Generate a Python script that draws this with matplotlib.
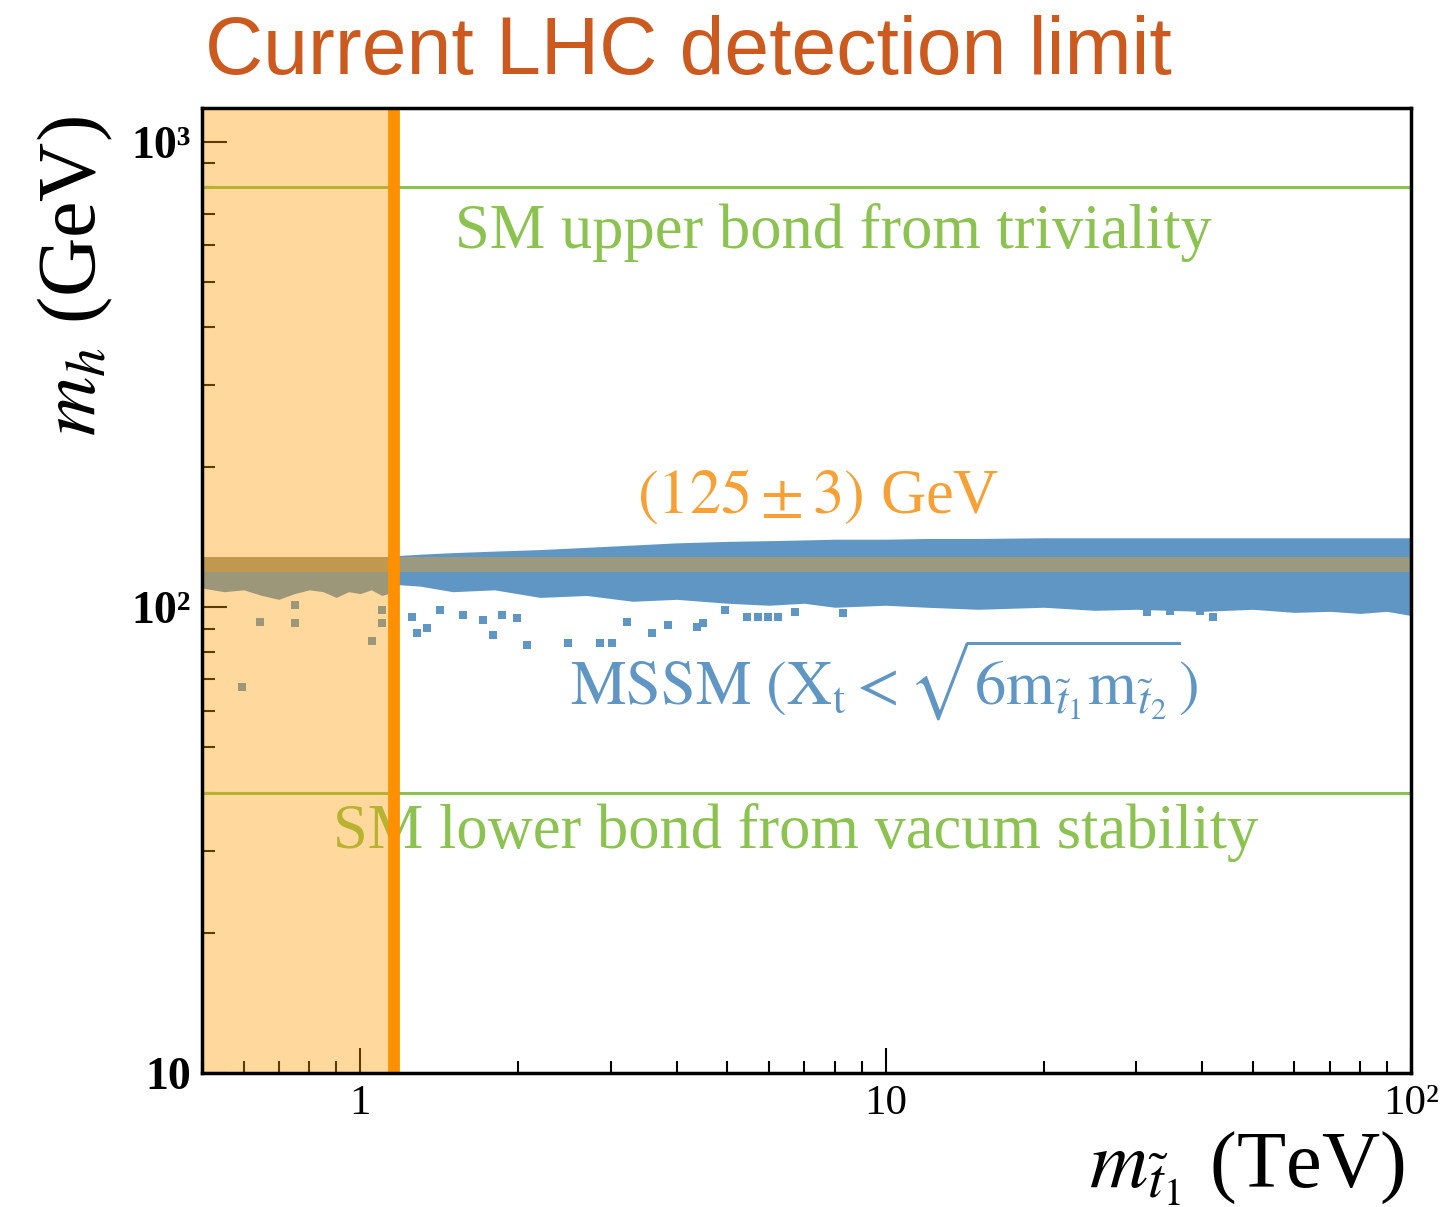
import matplotlib
matplotlib.use("Agg")
import matplotlib.pyplot as plt
import numpy as np

plt.rcParams['mathtext.fontset'] = 'stix'
plt.rcParams['font.family'] = ['Liberation Serif', 'DejaVu Serif']

# ---------------- data ----------------
# dense MSSM band left of the LHC limit (TeV, GeV)
left_x = [0.50, 0.55, 0.60, 0.65, 0.70, 0.75, 0.80, 0.85, 0.90, 0.95, 1.00, 1.05, 1.10, 1.16]
left_hi = [124, 124, 124, 124, 124, 124, 124, 124, 124, 124, 124, 124, 124, 124]
left_lo = [110, 108, 109, 106, 104, 107, 109, 108, 105, 108, 107, 109, 106, 108]

# dense MSSM band right of the LHC limit
main_x = [1.16, 1.3, 1.5, 1.8, 2.2, 2.7, 3.3, 4, 5, 6, 7, 8, 10, 12, 15, 20, 25, 30, 40, 50, 60, 70, 80, 90, 100]
main_hi = [129, 130, 131, 132, 133, 134.5, 136, 137.5, 138.5, 139, 139.5, 140, 140, 140.5, 140.5, 141, 141, 141, 141, 141, 141, 141, 141, 141, 141]
main_lo = [112, 111, 108, 109, 105, 106, 103, 104, 102, 101, 102, 100, 101, 100, 99, 100, 98.5, 99, 98, 99, 97.5, 98, 97, 98, 96]

# isolated MSSM points below the dense band
out_x = [0.752, 0.645, 0.752, 1.10, 1.10, 1.054, 0.596, 1.256, 1.284, 1.341, 1.42, 1.57, 1.715, 1.79,
         1.86, 1.99, 2.08, 2.49, 2.86, 3.02, 3.22, 3.59, 3.85, 4.37, 4.95, 5.45, 5.72, 5.98, 6.25,
         4.49, 6.72, 8.3, 31.5, 34.8, 39.7, 42.0]
out_y = [101, 92.9, 92.4, 98.5, 92.4, 84.5, 67.3, 95.2, 87.9, 90.1, 98.5, 96.1, 93.8, 87.1,
         96.1, 94.7, 82.9, 83.7, 83.7, 83.7, 92.9, 87.9, 91.5, 90.6, 98.5, 95.5, 95.5, 95.5, 95.5,
         92.4, 97.6, 97.0, 97.6, 98.0, 98.0, 95.5]

higgs_lo, higgs_hi = 119, 128          # (125 +- 3) GeV band as drawn
sm_upper = 800                          # GeV, triviality bound
sm_lower = 40                           # GeV, vacuum stability bound
lhc_limit = 1.16                        # TeV
x_range = (0.5, 100)
y_range = (10, 1180)

x_ticks = [1, 10, 100]
x_ticklabels = ['1', '10', '10²']
y_ticks = [10, 100, 1000]
y_ticklabels = ['10', '10²', '10³']

# ---------------- colours ----------------
blue = '#6096c3'
band_col = '#9b9a80'
green = '#8cc350'
orange_txt = '#f7a035'
shade = '#ff9900'
limit_col = '#ff9000'
title_col = '#cc5a1e'

fig = plt.figure(figsize=(14.41, 12.07), dpi=100)
ax = fig.add_axes([0.1402, 0.111, 0.839, 0.7995])
ax.set_xscale('log')
ax.set_yscale('log')

ax.fill_between(left_x, left_lo, left_hi, color=blue, lw=0, zorder=1)
ax.fill_between(main_x, main_lo, main_hi, color=blue, lw=0, zorder=1)
ax.scatter(out_x, out_y, s=28, marker='s', color=blue, lw=0, zorder=1)
ax.axhspan(higgs_lo, higgs_hi, color=band_col, lw=0, zorder=2)

ax.axhline(sm_upper, color=green, lw=2.2, zorder=2)
ax.axhline(sm_lower, color=green, lw=2.2, zorder=2)

tkw = dict(fontsize=45, zorder=3)
ax.text(1.516, 638, 'SM upper bond from triviality', color=green, ha='left', va='center', **tkw)
ax.text(3.37, 172, r'$(125\pm3)$ GeV', color=orange_txt, ha='left', va='center', **tkw)
ax.text(2.51, 69.7, r'$\mathrm{MSSM}\ (\mathrm{X_t} < \sqrt{6\mathrm{m}_{\tilde{t}_1}\mathrm{m}_{\tilde{t}_2}})$',
        color=blue, ha='left', va='center', **tkw)
ax.text(0.889, 32.9, 'SM lower bond from vacum stability', color=green, ha='left', va='center', **tkw)

ax.axvspan(x_range[0], lhc_limit, color=shade, alpha=0.38, lw=0, zorder=4)
ax.axvline(lhc_limit, color=limit_col, lw=8.5, zorder=5)

ax.set_xlim(*x_range)
ax.set_ylim(*y_range)

ax.set_xticks(x_ticks)
ax.set_xticklabels(x_ticklabels, fontsize=31)
ax.set_yticks(y_ticks)
ax.set_yticklabels(y_ticklabels, fontsize=33, fontweight='bold')
ax.tick_params(which='both', direction='in', top=False, right=False, width=1.5, color='black')
ax.tick_params(which='major', length=18)
ax.tick_params(which='minor', length=9)
ax.tick_params(axis='x', which='major', pad=8)
ax.tick_params(axis='y', which='major', pad=8)
for sp in ax.spines.values():
    sp.set_linewidth(2.5)
    sp.set_zorder(6)

fig.text(0.052, 1 - 116 / 1207, r'$m_h$ (GeV)', rotation=90, fontsize=59, ha='center', va='top')
fig.text(1405 / 1441, 1 - 1168 / 1207, r'$m_{\tilde{t}_1}$ (TeV)', fontsize=58, ha='right', va='center')
fig.text(205 / 1441, 1 - 53 / 1207, 'Current LHC detection limit', color=title_col,
         fontsize=58, family=['Liberation Sans', 'DejaVu Sans'], ha='left', va='center')

fig.savefig('out.png', dpi=100)
